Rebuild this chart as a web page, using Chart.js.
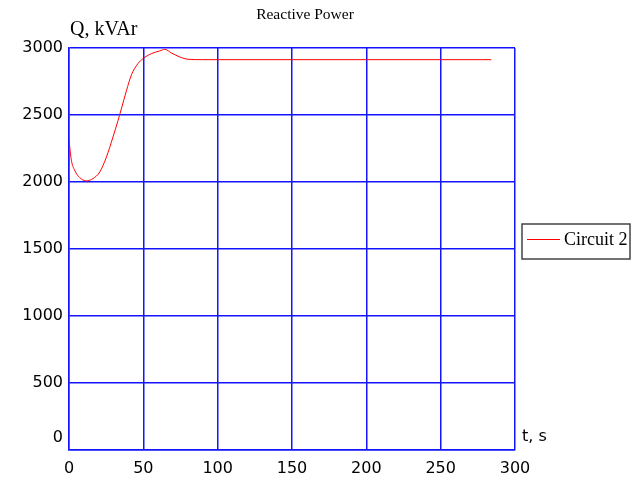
<!DOCTYPE html>
<html>
<head>
<meta charset="utf-8">
<script src="https://cdn.jsdelivr.net/npm/chart.js"></script>
<style>
  html, body { margin: 0; padding: 0; background: #fff; }
  #wrap { width: 635px; height: 477px; }
</style>
</head>
<body>
<div id="wrap"><canvas id="myChart" width="635" height="477"></canvas></div>
<script>
// data
var timeSec = [0, 1.6, 3.8, 7.2, 11.7, 16.2, 20.7, 25.2, 29.6, 33, 35.2, 38.6, 42, 46.4, 49.8, 55.4, 61, 64.4, 68.9, 74.5, 80, 90, 150, 200, 250, 284];
var reactiveQ = [2311, 2162, 2088, 2033, 2008, 2026, 2075, 2187, 2336, 2460, 2545, 2680, 2800, 2884, 2921, 2958, 2978, 2990, 2963, 2933, 2916, 2913, 2913, 2913, 2913, 2913];
var seriesName = 'Circuit 2';
var xTicks = [0, 50, 100, 150, 200, 250, 300];
var yTicks = [0, 500, 1000, 1500, 2000, 2500, 3000];

var points = timeSec.map(function(t, i) { return {x: t, y: reactiveQ[i]}; });
var serif = '"Liberation Serif", "Times New Roman", serif';
var sans = '"DejaVu Sans", Verdana, sans-serif';

// title, axis names and legend box drawn as text on the canvas
var labelsPlugin = {
  id: 'labels',
  afterDraw: function(chart) {
    var ctx = chart.ctx;
    var area = chart.chartArea;
    ctx.save();
    ctx.fillStyle = '#000';
    ctx.textBaseline = 'middle';

    ctx.font = '15.5px ' + serif;
    ctx.textAlign = 'center';
    ctx.fillText('Reactive Power', 305, 15);

    ctx.font = '20px ' + serif;
    ctx.textAlign = 'left';
    ctx.fillText('Q, kVAr', 70, 30);

    ctx.font = '16px ' + sans;
    ctx.fillText('t, s', area.right + 7, 437);
    // zero label sits a bit above the axis, like the original
    ctx.textAlign = 'right';
    ctx.fillText('0', area.left - 6, 438);

    // legend
    ctx.strokeStyle = '#444';
    ctx.lineWidth = 1.5;
    ctx.strokeRect(522, 224, 108, 35);
    ctx.strokeStyle = 'red';
    ctx.lineWidth = 1;
    ctx.beginPath();
    ctx.moveTo(527, 239.5);
    ctx.lineTo(560, 239.5);
    ctx.stroke();
    ctx.font = '18px ' + serif;
    ctx.textAlign = 'left';
    ctx.fillText(seriesName, 564, 240);
    ctx.restore();
  }
};

var gridBlue = 'rgb(20,20,255)';

var myChart = new Chart(document.getElementById('myChart'), {
  type: 'line',
  data: {
    datasets: [{
      label: seriesName,
      data: points,
      borderColor: 'rgb(255,0,0)',
      borderWidth: 1,
      pointRadius: 0,
      cubicInterpolationMode: 'monotone',
      fill: false
    }]
  },
  options: {
    responsive: false,
    animation: false,
    layout: { padding: { top: 48, right: 120, left: 0, bottom: 0 } },
    plugins: {
      legend: { display: false },
      title: { display: false },
      tooltip: { enabled: false }
    },
    scales: {
      x: {
        type: 'linear',
        min: 0, max: 300,
        afterBuildTicks: function(scale) { scale.ticks = xTicks.map(function(v) { return {value: v}; }); },
        afterFit: function(scale) { scale.height = 27; },
        grid: { color: gridBlue, lineWidth: 1.5, drawTicks: false },
        border: { color: gridBlue, width: 1.5 },
        ticks: { color: '#000', padding: 9, font: { family: sans, size: 16 }, maxRotation: 0 }
      },
      y: {
        min: 0, max: 3000,
        afterBuildTicks: function(scale) { scale.ticks = yTicks.map(function(v) { return {value: v}; }); },
        afterFit: function(scale) { scale.width = 69; },
        grid: { color: gridBlue, lineWidth: 1.5, drawTicks: false },
        border: { color: gridBlue, width: 1.5 },
        ticks: {
          color: '#000', padding: 6, font: { family: sans, size: 16 },
          callback: function(v) { return v === 0 ? '' : String(v); }
        }
      }
    }
  },
  plugins: [labelsPlugin]
});
</script>
</body>
</html>
